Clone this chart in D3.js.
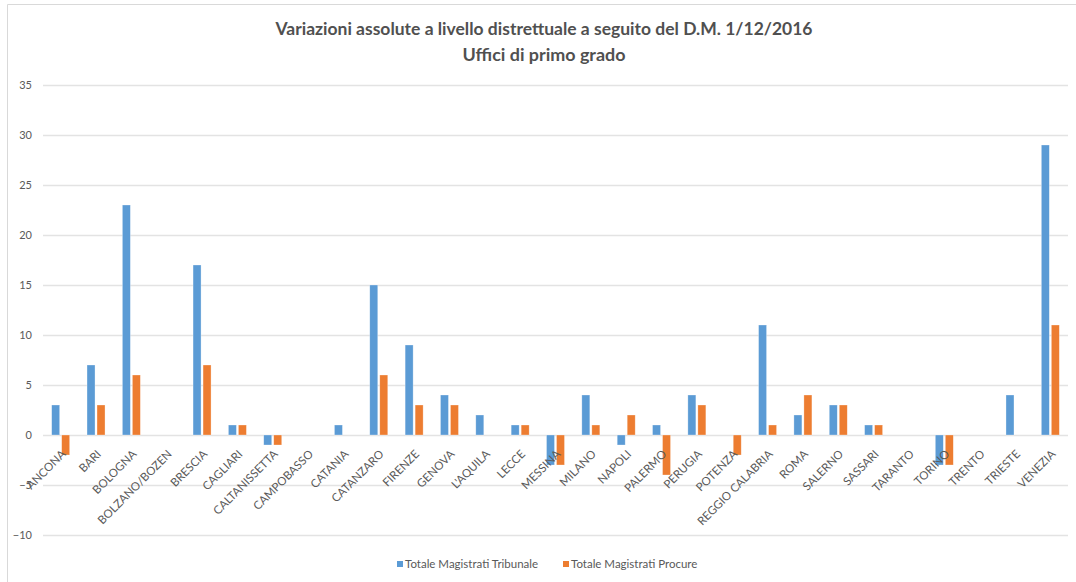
<!DOCTYPE html>
<html><head><meta charset="utf-8">
<script src="https://cdn.jsdelivr.net/npm/d3@7"></script>
<style>body{margin:0;background:#fff}svg{display:block}</style>
</head><body>
<script>
const categories = ["ANCONA","BARI","BOLOGNA","BOLZANO/BOZEN","BRESCIA","CAGLIARI","CALTANISSETTA","CAMPOBASSO","CATANIA","CATANZARO","FIRENZE","GENOVA","L'AQUILA","LECCE","MESSINA","MILANO","NAPOLI","PALERMO","PERUGIA","POTENZA","REGGIO CALABRIA","ROMA","SALERNO","SASSARI","TARANTO","TORINO","TRENTO","TRIESTE","VENEZIA"];
const tribunale = [3,7,23,0,17,1,-1,0,1,15,9,4,2,1,-3,4,-1,1,4,0,11,2,3,1,0,-3,0,4,29];
const procure   = [-2,3,6,0,7,1,-1,0,0,6,3,3,0,1,-3,1,2,-4,3,-2,1,4,3,1,0,-3,0,0,11];
const seriesNames = ["Totale Magistrati Tribunale","Totale Magistrati Procure"];
const seriesColors = ["#5B9BD5","#ED7D31"];
const yTicks = [-10,-5,0,5,10,15,20,25,30,35];
const titleLines = ["Variazioni assolute a livello distrettuale a seguito del D.M. 1/12/2016","Uffici di primo grado"];

const W=1076,H=582;
const FONT="Lato, 'Open Sans', sans-serif";
const svg=d3.select("body").append("svg").attr("width",W).attr("height",H);
svg.append("rect").attr("width",W).attr("height",H).attr("fill","#fff");
// chart frame (top & left visible)
svg.append("path").attr("d",`M7.5,${H} V4.5 H${W}`).attr("fill","none").attr("stroke","#d9d9d9").attr("stroke-width",1);

const plot={l:43,r:1068,t:85,b:535};
const x=d3.scaleBand().domain(categories).range([plot.l,plot.r]);
const y=d3.scaleLinear().domain([-10,35]).range([plot.b,plot.t]);
const xs=d3.scaleBand().domain([0,1]).range([-9,9]).paddingInner(0.2);

// gridlines
svg.append("g").selectAll("line").data(yTicks).join("line")
  .attr("x1",plot.l).attr("x2",plot.r)
  .attr("y1",d=>Math.round(y(d))+0.5).attr("y2",d=>Math.round(y(d))+0.5)
  .attr("stroke","#e3e3e3").attr("stroke-width",1.3);

// y axis labels
const yAxis=d3.axisLeft(y).tickValues(yTicks).tickSize(0).tickPadding(0);
const ga=svg.append("g").attr("transform",`translate(32,0)`).call(yAxis);
ga.select(".domain").remove();
ga.selectAll("text").attr("font-family",FONT).attr("font-size",11).attr("fill","#595959");

// bars
const series=[tribunale,procure];
series.forEach((vals,si)=>{
  svg.append("g").selectAll("rect").data(categories).join("rect")
    .attr("x",(c)=>x(c)+x.bandwidth()/2+xs(si))
    .attr("width",xs.bandwidth())
    .attr("y",(c,i)=>y(Math.max(0,vals[i])))
    .attr("height",(c,i)=>Math.abs(y(vals[i])-y(0)))
    .attr("fill",seriesColors[si])
    .attr("stroke","#ffffff").attr("stroke-opacity",0.5).attr("stroke-width",0.6);
});

// x labels
svg.append("g").selectAll("text").data(categories).join("text")
  .attr("transform",c=>`translate(${x(c)+x.bandwidth()/2+3},452) rotate(-45)`)
  .attr("text-anchor","end").attr("dy","0.35em")
  .attr("font-family",FONT).attr("font-size",11.5).attr("fill","#595959")
  .text(c=>c);

// title
const titleLen=[537,163];
svg.append("g").selectAll("text").data(titleLines).join("text")
  .attr("x",544).attr("y",(d,i)=>35+i*26)
  .attr("text-anchor","middle")
  .attr("textLength",(d,i)=>titleLen[i]).attr("lengthAdjust","spacingAndGlyphs")
  .attr("font-family",FONT).attr("font-size",16.5).attr("font-weight",700)
  .attr("fill","#505050").text(d=>d);

// legend
const legX=[397,563];
const lg=svg.append("g").selectAll("g").data(seriesNames).join("g")
  .attr("transform",(d,i)=>`translate(${legX[i]},561)`);
lg.append("rect").attr("width",6).attr("height",6).attr("fill",(d,i)=>seriesColors[i]);
lg.append("text").attr("x",8).attr("y",3).attr("dy","0.35em")
  .attr("font-family",FONT).attr("font-size",11.5).attr("fill","#595959")
  .text(d=>d);
</script>
</body></html>
